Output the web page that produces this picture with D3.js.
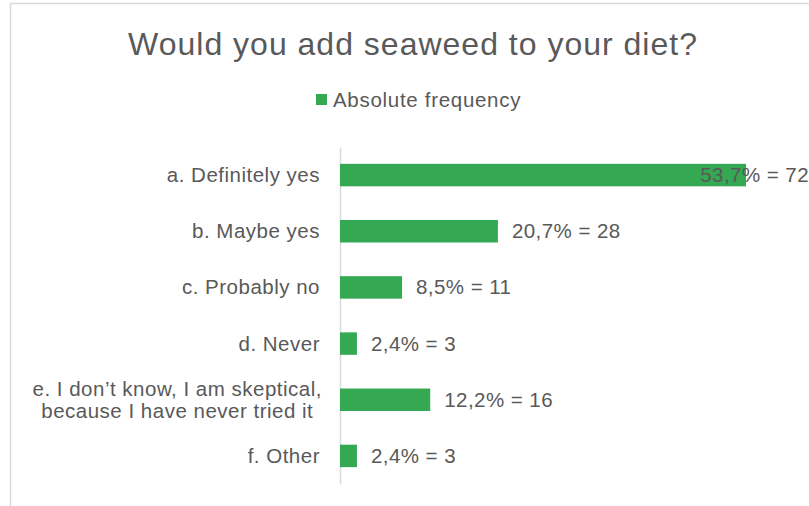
<!DOCTYPE html>
<html>
<head>
<meta charset="utf-8">
<script src="https://cdnjs.cloudflare.com/ajax/libs/d3/7.8.5/d3.min.js"></script>
<style>
  html, body { margin: 0; padding: 0; background: #fff; }
  svg { display: block; font-family: "Liberation Sans", Arial, sans-serif; }
</style>
</head>
<body>
<div id="chart"></div>
<script>
// chart data
var categories = [
    'a. Definitely yes',
    'b. Maybe yes',
    'c. Probably no',
    'd. Never',
    'e. I don\u2019t know, I am skeptical,|because I have never tried it',
    'f. Other'
];
var counts = [72, 28, 11, 3, 16, 3];
var percents = [53.7, 20.7, 8.5, 2.4, 12.2, 2.4];
var seriesName = 'Absolute frequency';
var title = 'Would you add seaweed to your diet?';

var WIDTH = 809;
var HEIGHT = 506;
var BAR_COLOR = '#34a853';
var TEXT_COLOR = '#595959';

var svg = d3.select('#chart').append('svg')
    .attr('width', WIDTH)
    .attr('height', HEIGHT);

// chart border (runs off the right and bottom edges)
svg.append('rect')
    .attr('x', 10.5).attr('y', 3.5)
    .attr('width', WIDTH + 10).attr('height', HEIGHT + 10)
    .attr('fill', 'none')
    .attr('stroke', '#d9d9d9')
    .attr('stroke-width', 1.5);

// title
svg.append('text')
    .attr('x', 413).attr('y', 55)
    .attr('text-anchor', 'middle')
    .attr('fill', TEXT_COLOR)
    .style('font-size', '32px')
    .style('letter-spacing', '1px')
    .text(title);

// legend
var legend = svg.append('g').attr('transform', 'translate(316, 100)');
legend.append('rect')
    .attr('x', 0).attr('y', -6)
    .attr('width', 11).attr('height', 11)
    .attr('fill', BAR_COLOR);
legend.append('text')
    .attr('x', 17).attr('y', 7)
    .attr('fill', TEXT_COLOR)
    .style('font-size', '20.5px')
    .style('letter-spacing', '0.7px')
    .text(seriesName);

// scales
var x = d3.scaleLinear().domain([0, 72]).range([340, 746]);
var y = d3.scaleBand()
    .domain(d3.range(categories.length))
    .range([147, 484])
    .paddingInner(0.6)
    .paddingOuter(0.3);

// category axis: only the line is drawn, labels done by hand for wrapping
var yAxis = d3.axisLeft(y).tickSize(0).tickFormat('');
var axisG = svg.append('g')
    .attr('transform', 'translate(340, 0)')
    .call(yAxis);
axisG.select('.domain').attr('stroke', '#d9d9d9').attr('stroke-width', 1.5);

categories.forEach(function drawLabel(c, i) {
    var lines = c.split('|');
    var cy = y(i) + y.bandwidth() / 2;
    var label = svg.append('text')
        .attr('fill', TEXT_COLOR)
        .style('font-size', '20.5px')
        .style('letter-spacing', '0.5px');
    if (lines.length === 1) {
        label.attr('x', 320).attr('y', cy + 7).attr('text-anchor', 'end').text(c);
    } else {
        // wrapped label: lines centred inside a block right-aligned to the axis
        var lh = 22;
        var spans = lines.map(function (l, j) {
            return label.append('tspan')
                .attr('y', cy + 7 + (j - (lines.length - 1) / 2) * lh)
                .text(l);
        });
        var maxW = d3.max(spans, function (s) { return s.node().getComputedTextLength(); });
        spans.forEach(function (s) { s.attr('x', 322 - maxW / 2); });
        label.attr('text-anchor', 'middle');
    }
});

// bars
svg.append('g').selectAll('rect')
    .data(counts)
    .enter().append('rect')
    .attr('x', x(0))
    .attr('y', function (d, i) { return y(i); })
    .attr('width', function (d) { return x(d) - x(0); })
    .attr('height', y.bandwidth())
    .attr('fill', BAR_COLOR);

// value labels
var fmt = function (p) { return p.toFixed(1).replace('.', ','); };
svg.append('g').selectAll('text')
    .data(counts)
    .enter().append('text')
    .attr('y', function (d, i) { return y(i) + y.bandwidth() / 2 + 7; })
    .attr('fill', TEXT_COLOR)
    .style('font-size', '20.5px')
    .style('letter-spacing', '0.45px')
    .text(function (d, i) { return fmt(percents[i]) + '% = ' + d; })
    .each(function (d) {
        var w = this.getComputedTextLength();
        var xPos = x(d) + 14;
        if (xPos + w > WIDTH) xPos = WIDTH - w;
        d3.select(this).attr('x', xPos);
    });
</script>
</body>
</html>
